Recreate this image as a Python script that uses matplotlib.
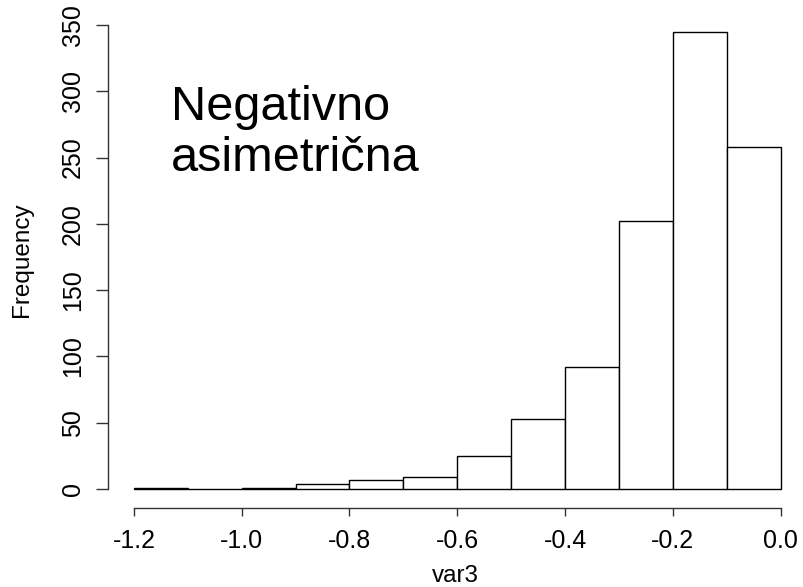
import matplotlib
matplotlib.use("Agg")
import matplotlib.pyplot as plt
import numpy as np

plt.rcParams['font.family'] = ['Liberation Sans', 'DejaVu Sans']

# Histogram data (bin edges and counts)
bin_edges = [-1.2, -1.1, -1.0, -0.9, -0.8, -0.7, -0.6, -0.5, -0.4, -0.3, -0.2, -0.1, 0.0]
counts = [1, 0, 1, 4, 7, 9, 25, 53, 92, 202, 345, 258]
x_ticks = [-1.2, -1.0, -0.8, -0.6, -0.4, -0.2, 0.0]
x_tick_labels = ["-1.2", "-1.0", "-0.8", "-0.6", "-0.4", "-0.2", "0.0"]
y_ticks = [0, 50, 100, 150, 200, 250, 300, 350]
annotation_lines = ["Negativno", "asimetrična"]

W, H = 804, 587
fig = plt.figure(figsize=(W / 100, H / 100), dpi=100)
ax = fig.add_axes([108.1 / W, (H - 507.6) / H, 698.3 / W, 501.2 / H])

edges = np.array(bin_edges)
ax.bar(edges[:-1], counts, width=np.diff(edges), align='edge',
       facecolor='white', edgecolor='black', linewidth=1.0)

ax.set_xlim(-1.248, 0.048)
ax.set_ylim(-14, 364)

for s in ['top', 'right']:
    ax.spines[s].set_visible(False)
ax.spines['left'].set_bounds(0, 350)
ax.spines['bottom'].set_bounds(-1.2, 0.0)
for s in ['left', 'bottom']:
    ax.spines[s].set_linewidth(1.0)
    ax.spines[s].set_color('#333333')

ax.set_xticks(x_ticks)
ax.set_xticklabels(x_tick_labels)
ax.set_yticks(y_ticks)
ax.set_yticklabels([str(v) for v in y_ticks], rotation=90, va='center')
ax.tick_params(axis='x', length=5.8, width=1.0, pad=9.5, labelsize=18, color='#333333')
ax.tick_params(axis='y', length=8.6, width=1.0, pad=8.0, labelsize=18, color='#333333')

fig.text(455 / W, 1 - 576 / H, "var3", ha='center', va='center', fontsize=17.5)
fig.text(22 / W, 1 - 260 / H, "Frequency", ha='center', va='center',
         rotation=90, fontsize=17.5)

fig.text(171 / W, 1 - 120 / H, annotation_lines[0], ha='left', va='baseline', fontsize=35)
fig.text(171 / W, 1 - 171 / H, annotation_lines[1], ha='left', va='baseline', fontsize=35)

fig.savefig("out.png", dpi=100, facecolor='white')
